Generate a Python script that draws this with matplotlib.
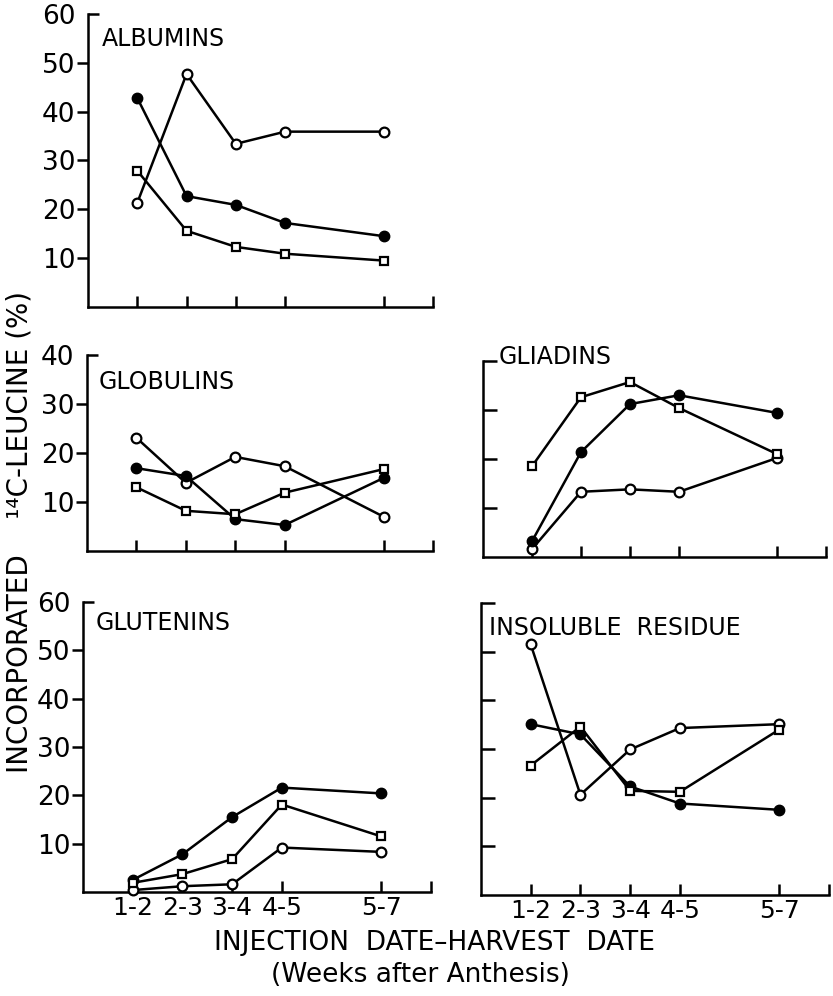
import matplotlib
matplotlib.use('Agg')
import matplotlib.pyplot as plt

plt.rcParams['font.family'] = ['DejaVu Sans']

# harvest week for each injection-harvest interval
weeks = [2, 3, 4, 5, 7]
week_labels = ['1-2', '2-3', '3-4', '4-5', '5-7']

# albumins
alb_open = [21.3, 47.7, 33.4, 35.9, 35.9]
alb_filled = [42.8, 22.7, 20.9, 17.2, 14.5]
alb_square = [27.9, 15.6, 12.3, 10.9, 9.5]

# globulins
glob_open = [23.1, 13.9, 19.2, 17.3, 7.0]
glob_filled = [16.9, 15.3, 6.5, 5.3, 14.9]
glob_square = [13.0, 8.2, 7.5, 11.9, 16.7]

# gliadins
glia_open = [1.6, 13.3, 13.8, 13.3, 20.2]
glia_filled = [3.2, 21.4, 31.2, 33.0, 29.4]
glia_square = [18.5, 32.6, 35.7, 30.4, 21.0]

# glutenins
glut_open = [0.4, 1.2, 1.6, 9.2, 8.3]
glut_filled = [2.5, 7.8, 15.5, 21.6, 20.4]
glut_square = [1.9, 3.7, 6.8, 18.1, 11.5]

# insoluble residue
ins_open = [51.5, 20.6, 29.9, 34.3, 35.1]
ins_filled = [35.1, 33.0, 22.3, 18.8, 17.5]
ins_square = [26.6, 34.6, 21.4, 21.2, 34.0]

fig = plt.figure(figsize=(8.33, 9.96), dpi=100)

# panel boxes in figure fraction
boxes = {
    'alb': [0.1056, 0.6918, 0.4142, 0.2942],
    'glob': [0.1044, 0.4468, 0.4154, 0.1968],
    'glia': [0.5798, 0.4408, 0.4118, 0.1968],
    'glut': [0.0996, 0.1044, 0.4178, 0.2912],
    'ins': [0.5774, 0.1014, 0.4178, 0.2932],
}

lw = 1.8


def panel(key, series, ymax, title, tx, ty, left=True, bottom=False):
    ax = fig.add_axes(boxes[key])
    for vals, style in series:
        if style == 'filled':
            ax.plot(weeks, vals, color='black', lw=lw, marker='o', ms=7.5,
                    mfc='black', mec='black', clip_on=False, zorder=3)
        elif style == 'open':
            ax.plot(weeks, vals, color='black', lw=lw, marker='o', ms=7,
                    mfc='white', mec='black', mew=1.6, clip_on=False, zorder=3)
        else:
            ax.plot(weeks, vals, color='black', lw=lw, marker='s', ms=5.5,
                    mfc='white', mec='black', mew=1.6, clip_on=False, zorder=3)
    ax.set_xlim(1, 8)
    ax.set_ylim(0, ymax)
    for s in ['top', 'right']:
        ax.spines[s].set_visible(False)
    for s in ['left', 'bottom']:
        ax.spines[s].set_linewidth(lw)

    # x ticks point up, with an unlabeled end tick
    ax.set_xticks(weeks + [8])
    if bottom:
        ax.set_xticklabels(week_labels + [''])
    else:
        ax.set_xticklabels([''] * 6)
    ax.tick_params(axis='x', direction='in', length=8, width=lw,
                   labelsize=18, pad=3)

    # y ticks: top one points right, others out (left panels) or in
    major = list(range(10, ymax, 10))
    ax.set_yticks(major)
    ax.set_yticks([ymax], minor=True)
    if left:
        ax.set_yticklabels([str(v) for v in major])
        ax.set_yticklabels([str(ymax)], minor=True)
        ax.tick_params(axis='y', which='major', direction='out', length=8,
                       width=lw, labelsize=19, pad=1)
        ax.tick_params(axis='y', which='minor', direction='in', length=8,
                       width=lw, labelsize=19, pad=9)
    else:
        ax.set_yticklabels([])
        ax.set_yticklabels([], minor=True)
        ax.tick_params(axis='y', which='both', direction='in', length=10,
                       width=lw)
    ax.patch.set_visible(False)
    ax.text(tx, ty, title, transform=ax.transAxes, fontsize=17,
            ha='left', va='center')
    return ax


panel('alb', [(alb_open, 'open'), (alb_filled, 'filled'), (alb_square, 'square')],
      60, 'ALBUMINS', 0.04, 0.915)
panel('glob', [(glob_open, 'open'), (glob_filled, 'filled'), (glob_square, 'square')],
      40, 'GLOBULINS', 0.035, 0.86)
panel('glia', [(glia_open, 'open'), (glia_filled, 'filled'), (glia_square, 'square')],
      40, 'GLIADINS', 0.045, 1.02, left=False)
panel('glut', [(glut_open, 'open'), (glut_filled, 'filled'), (glut_square, 'square')],
      60, 'GLUTENINS', 0.035, 0.928, bottom=True)
panel('ins', [(ins_open, 'open'), (ins_filled, 'filled'), (ins_square, 'square')],
      60, 'INSOLUBLE  RESIDUE', 0.022, 0.915, left=False, bottom=True)

fig.text(0.024, 0.466, 'INCORPORATED    \u00b9\u2074C-LEUCINE (%)', rotation=90,
         ha='center', va='center', fontsize=20)
fig.text(0.522, 0.053, 'INJECTION  DATE\u2013HARVEST  DATE', ha='center',
         va='center', fontsize=19)
fig.text(0.505, 0.021, '(Weeks after Anthesis)', ha='center', va='center',
         fontsize=19)

fig.savefig('out.png', dpi=100)
